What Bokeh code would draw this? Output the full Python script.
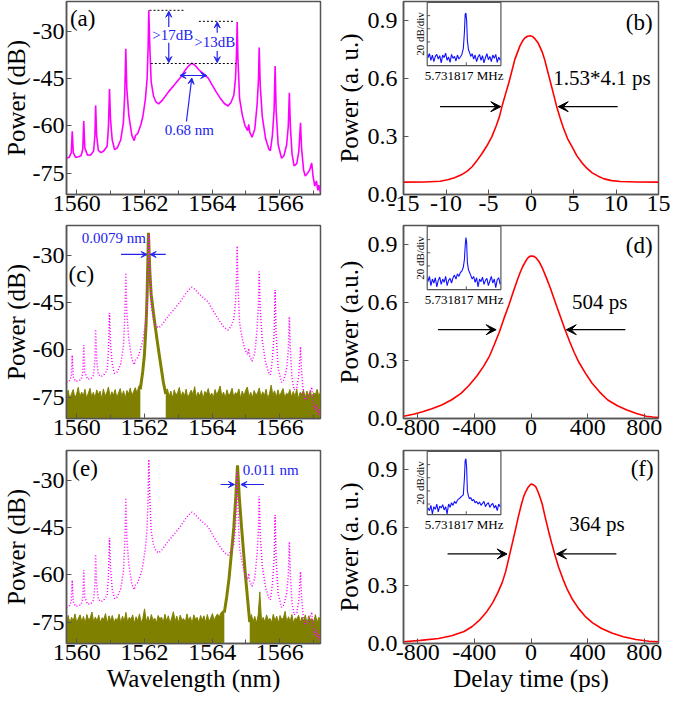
import math
from bokeh.plotting import figure
from bokeh.models import Range1d, FixedTicker, Label, Arrow, VeeHead, PrintfTickFormatter, Title
from bokeh.layouts import row, column
from bokeh.embed import file_html
from bokeh.resources import INLINE

# ---------------- data ----------------
spec_x = [1559.70, 1559.78, 1559.84, 1559.87, 1559.90, 1559.97, 1560.05, 1560.13, 1560.18, 1560.21,
          1560.24, 1560.32, 1560.42, 1560.50, 1560.54, 1560.56, 1560.59, 1560.64, 1560.72, 1560.80,
          1560.90, 1560.94, 1560.97, 1561.00, 1561.05, 1561.12, 1561.20, 1561.30, 1561.38, 1561.42,
          1561.45, 1561.48, 1561.54, 1561.63, 1561.70, 1561.74, 1561.80, 1561.90, 1561.96, 1562.03,
          1562.08, 1562.11, 1562.13, 1562.16, 1562.20, 1562.27, 1562.34, 1562.42, 1562.52, 1562.71,
          1562.90, 1563.08, 1563.20, 1563.30, 1563.40, 1563.50, 1563.61, 1563.75, 1563.89, 1564.00,
          1564.12, 1564.24, 1564.36, 1564.47, 1564.56, 1564.64, 1564.69, 1564.72, 1564.74, 1564.76,
          1564.81, 1564.89, 1564.97, 1565.05, 1565.08, 1565.11, 1565.18, 1565.26, 1565.33, 1565.37,
          1565.39, 1565.42, 1565.48, 1565.58, 1565.68, 1565.72, 1565.78, 1565.83, 1565.86, 1565.89,
          1565.95, 1566.05, 1566.12, 1566.20, 1566.25, 1566.28, 1566.31, 1566.36, 1566.42, 1566.50,
          1566.56, 1566.61, 1566.64, 1566.70, 1566.75, 1566.82, 1566.88, 1566.94, 1566.98, 1567.03,
          1567.08, 1567.12, 1567.15, 1567.20]
spec_y = [-70.3, -70.0, -68.5, -61.7, -68.5, -70.0, -69.8, -69.5, -67.5, -58.5,
          -67.0, -69.3, -69.2, -68.0, -63.0, -53.5, -63.0, -67.8, -68.5, -68.0,
          -66.5, -60.0, -48.3, -58.0, -64.5, -67.5, -67.0, -64.5, -59.0, -50.0,
          -35.5, -48.0, -56.7, -63.0, -64.7, -63.0, -62.5, -59.5, -56.7, -51.5,
          -45.0, -35.0, -23.3, -35.0, -46.0, -50.5, -52.4, -53.0, -52.0, -49.2,
          -46.8, -44.4, -42.4, -41.0, -40.1, -40.8, -42.2, -43.5, -44.9, -47.0,
          -49.2, -51.2, -52.9, -53.7, -52.5, -50.3, -45.0, -37.0, -27.0, -38.0,
          -51.3, -56.5, -59.9, -61.5, -59.5, -62.0, -63.6, -61.0, -53.0, -45.0,
          -35.1, -47.0, -57.0, -64.1, -67.5, -67.9, -63.0, -55.0, -41.0, -55.0,
          -66.0, -70.3, -69.5, -66.0, -60.0, -49.5, -60.0, -69.0, -72.7, -72.0,
          -68.0, -59.0, -67.0, -74.0, -75.9, -75.0, -74.0, -71.8, -76.0, -79.1,
          -77.5, -80.5, -78.8, -81.3]

# noise floors: values sampled evenly between the given first and last wavelength
c_floor_left_span = (1559.70, 1561.88)
c_floor_left_y = [-74.5, -72.8, -75.6, -73.9, -72.6, -75.2, -74.1, -71.9, -75.0, -73.4,
                  -74.6, -72.5, -75.4, -73.8, -72.2, -74.9, -73.5, -75.3, -72.7, -74.2,
                  -73.1, -75.5, -72.4, -74.7, -73.6, -71.8, -75.1, -73.3, -74.4, -72.6,
                  -75.2, -73.7, -72.3, -74.8, -73.0, -75.4, -72.9, -74.0, -72.1, -74.6,
                  -73.2, -72.0, -73.8, -71.6, -71.0]
c_floor_right_span = (1562.63, 1567.20)
c_floor_right_y = [-73.0,
                   -72.4, -74.8, -73.1, -75.3, -72.7, -74.4, -73.6, -71.9, -75.0, -73.3,
                   -74.7, -72.5, -75.4, -73.9, -72.8, -74.2, -71.7, -75.1, -73.5, -74.6,
                   -72.9, -75.5, -73.2, -74.0, -72.3, -74.9, -73.7, -75.2, -72.6, -74.3,
                   -73.0, -71.5, -74.8, -73.4, -75.3, -72.7, -74.5, -73.8, -72.2, -75.0,
                   -73.6, -74.1, -72.4, -75.4, -73.1, -74.7, -72.8, -71.8, -74.9, -73.5,
                   -75.2, -72.9, -74.3, -73.7, -72.1, -75.0, -73.3, -74.6, -72.5, -75.5,
                   -73.9, -71.2, -74.4, -73.0, -75.1, -72.7, -74.8, -73.4, -72.3, -75.3,
                   -73.8, -74.2, -72.6, -75.0, -73.2, -74.9, -72.4, -75.6, -73.5, -74.0,
                   -72.8, -75.2, -73.1, -74.6, -72.9, -75.4, -73.6, -74.3, -72.5, -74.8,
                   -73.3]
c_peak_x = [1561.88, 1561.95, 1562.00, 1562.05, 1562.08, 1562.12, 1562.16, 1562.20, 1562.30, 1562.37,
            1562.44, 1562.56, 1562.63]
c_peak_y = [-72.5, -67.0, -61.7, -52.0, -42.4, -22.8, -35.0, -42.4, -51.0, -56.5,
            -61.7, -70.3, -74.0]

e_floor_left_span = (1559.70, 1564.36)
e_floor_left_y = [-74.8, -72.9, -75.3, -73.5, -74.6, -72.4, -75.1, -73.8, -72.7, -74.9,
                  -73.2, -75.4, -72.6, -74.3, -73.7, -71.8, -75.0, -73.4, -74.7, -72.8,
                  -75.2, -73.6, -74.1, -72.3, -75.5, -73.0, -74.5, -72.9, -75.1, -73.9,
                  -74.4, -72.5, -75.3, -73.1, -74.8, -71.9, -75.0, -73.5, -74.2, -72.7,
                  -75.4, -73.3, -74.6, -72.4, -75.2, -73.8, -70.8, -74.9, -73.2, -75.0,
                  -72.6, -74.5, -73.7, -75.3, -72.9, -74.0, -73.4, -75.1, -72.5, -74.7,
                  -73.0, -75.4, -73.6, -71.7, -74.8, -73.1, -75.2, -72.8, -74.3, -73.9,
                  -75.0, -72.4, -74.6, -73.3, -75.5, -72.7, -74.1, -73.5, -75.2, -72.9,
                  -74.4, -73.0, -75.1, -72.6, -74.8, -73.7, -72.3, -74.5, -73.2, -72.4,
                  -73.5, -72.0, -71.5, -71.8]
e_floor_right_span = (1565.11, 1567.20)
e_floor_right_y = [-74.0, -72.6, -74.9, -73.2, -75.3, -72.8, -65.4, -74.6, -73.5, -75.0,
                   -72.7, -74.4, -73.8, -75.2, -72.5, -74.7, -73.1, -75.4, -72.9, -74.2,
                   -73.6, -71.6, -75.0, -73.3, -74.8, -72.6, -75.3, -73.7, -74.1, -72.8,
                   -75.1, -73.4, -74.6, -72.7, -75.5, -73.0, -74.3, -73.9, -74.9, -72.6,
                   -75.2, -73.5, -74.0]
e_peak_x = [1564.36, 1564.43, 1564.50, 1564.57, 1564.64, 1564.70, 1564.75, 1564.80, 1564.87, 1564.93,
            1564.99, 1565.05, 1565.11]
e_peak_y = [-72.0, -67.0, -61.1, -53.0, -45.0, -35.0, -25.2, -35.0, -45.0, -53.0,
            -61.0, -68.0, -75.0]

# autocorrelation traces
b_x = [-15.0, -12.5, -10.7, -9.8, -9.0, -8.2, -7.5, -6.9, -6.4, -5.8, -5.2, -4.6, -4.1, -3.7, -3.4,
       -3.0, -2.6, -2.25, -1.9, -1.6, -1.3, -1.0, -0.7, -0.4, -0.1, 0.2, 0.5, 0.8, 1.1, 1.35, 1.6,
       1.95, 2.3, 2.65, 3.0, 3.4, 3.8, 4.3, 4.9, 5.4, 6.0, 6.6, 7.2, 7.9, 8.6, 9.5, 10.5, 12.5, 15.0]
b_y = [0.064, 0.065, 0.069, 0.076, 0.087, 0.102, 0.121, 0.145, 0.173, 0.210, 0.251, 0.300, 0.355, 0.405,
       0.459, 0.520, 0.580, 0.640, 0.700, 0.735, 0.770, 0.795, 0.812, 0.820, 0.823, 0.818, 0.805, 0.788,
       0.760, 0.735, 0.700, 0.640, 0.580, 0.520, 0.459, 0.400, 0.346, 0.290, 0.242, 0.200, 0.164, 0.135,
       0.112, 0.095, 0.081, 0.072, 0.067, 0.065, 0.064]
d_x = [-900, -830, -765, -700, -630, -560, -494, -440, -382, -335, -292, -258, -224, -190, -156, -128,
       -100, -80, -60, -40, -25, -10, 5, 20, 35, 55, 80, 108, 137, 170, 204, 238, 272, 305, 339, 385,
       430, 485, 542, 610, 677, 745, 813, 860, 900]
d_y = [0.012, 0.022, 0.035, 0.050, 0.070, 0.097, 0.130, 0.170, 0.220, 0.270, 0.325, 0.385, 0.447, 0.520,
       0.588, 0.650, 0.710, 0.750, 0.785, 0.812, 0.830, 0.840, 0.842, 0.840, 0.833, 0.815, 0.780, 0.730,
       0.675, 0.605, 0.535, 0.465, 0.400, 0.342, 0.290, 0.234, 0.184, 0.137, 0.096, 0.066, 0.044, 0.026,
       0.012, 0.008, 0.005]
f_x = [-900, -780, -652, -560, -472, -415, -360, -312, -270, -235, -202, -178, -157, -135, -112, -90,
       -67, -50, -35, -20, -5, 4, 15, 25, 34, 50, 65, 79, 100, 124, 146, 169, 195, 225, 256, 292, 335,
       382, 435, 495, 570, 652, 740, 832, 900]
f_y = [0.009, 0.016, 0.026, 0.040, 0.062, 0.088, 0.124, 0.165, 0.212, 0.262, 0.318, 0.375, 0.441, 0.510,
       0.582, 0.655, 0.723, 0.765, 0.790, 0.810, 0.823, 0.826, 0.823, 0.818, 0.812, 0.785, 0.755, 0.723,
       0.655, 0.582, 0.520, 0.459, 0.395, 0.335, 0.280, 0.229, 0.182, 0.141, 0.107, 0.079, 0.054, 0.035,
       0.021, 0.012, 0.009]

# RF spectra insets (offset from 5.731817 MHz, dB)
rf_x = [-5.2, -5.0, -4.8, -4.6, -4.4, -4.2, -4.0, -3.8, -3.6, -3.4, -3.2, -3.0, -2.8, -2.6, -2.4, -2.2,
        -2.0, -1.8, -1.6, -1.4, -1.2, -1.0, -0.8, -0.6, -0.4, -0.25, -0.15, -0.05, 0.05, 0.15, 0.3, 0.45,
        0.6, 0.8, 1.0, 1.2, 1.4, 1.6, 1.8, 2.0, 2.2, 2.4, 2.6, 2.8, 3.0, 3.2, 3.4, 3.6, 3.8, 4.0, 4.2,
        4.4, 4.6]
rf_b = [-84, -78, -88, -80, -90, -82, -79, -86, -81, -92, -80, -84, -77, -88, -83, -91, -79, -85, -82,
        -89, -80, -86, -83, -79, -70, -45, -18, -16, -28, -58, -72, -76, -82, -78, -86, -80, -90, -83,
        -79, -88, -81, -92, -84, -78, -87, -82, -90, -80, -85, -79, -91, -83, -88]
rf_d = [-84, -76, -90, -80, -86, -78, -92, -82, -77, -88, -80, -85, -76, -90, -82, -79, -86, -78, -74,
        -80, -72, -76, -70, -68, -62, -50, -30, -17, -24, -55, -66, -70, -74, -80, -76, -85, -78, -92,
        -80, -84, -77, -88, -82, -79, -90, -83, -76, -86, -80, -93, -81, -78, -88]
rf_f = [-86, -90, -82, -95, -84, -88, -80, -92, -83, -86, -81, -89, -84, -95, -80, -85, -78, -82, -76,
        -79, -74, -72, -70, -68, -66, -40, -14, -11, -25, -60, -68, -72, -70, -75, -73, -78, -76, -80,
        -77, -82, -79, -76, -84, -80, -78, -85, -81, -79, -86, -82, -90, -80, -84]
rf_ticks = [-80, -60, -40, -20]

wl_ticks = [1560, 1562, 1564, 1566]
wl_minor = [1561, 1563, 1565, 1567]
db_ticks = [-75, -60, -45, -30]
pw_ticks = [0.0, 0.3, 0.6, 0.9]
b_ticks = [-15, -10, -5, 0, 5, 10, 15]
ps_ticks = [-800, -400, 0, 400, 800]

# ---------------- styling helpers ----------------
FONT = "Liberation Serif"
MAGENTA = "#ff00ff"
OLIVE = "#808000"
RED = "#ff0000"
BLUE = "#2323ee"
FRAME = "#555555"

WL_RANGE = (1559.70, 1567.20)
DB_RANGE = (-81.8, -20.5)


def grid(span, n):
    a, b = span
    return [a + (b - a) * i / (n - 1) for i in range(n)]


def make_fig(w, h, xr, yr, bl, br, bt, bb, xticks, xminor, yticks, xlabel, ylabel, xfmt, yfmt,
             ystand=2, tstand=0):
    p = figure(width=w, height=h, x_range=Range1d(*xr), y_range=Range1d(*yr),
               output_backend="svg", toolbar_location=None,
               min_border_left=bl, min_border_right=br, min_border_top=bt, min_border_bottom=bb)
    p.grid.visible = False
    p.outline_line_color = FRAME
    p.outline_line_width = 1.5
    p.xaxis.ticker = FixedTicker(ticks=xticks, minor_ticks=xminor)
    p.yaxis.ticker = FixedTicker(ticks=yticks, minor_ticks=[])
    p.xaxis.formatter = PrintfTickFormatter(format=xfmt)
    p.yaxis.formatter = PrintfTickFormatter(format=yfmt)
    for ax in (p.xaxis[0], p.yaxis[0]):
        ax.axis_line_color = FRAME
        ax.axis_line_width = 1.5
        ax.major_tick_line_color = FRAME
        ax.minor_tick_line_color = FRAME
        ax.major_tick_in = 5
        ax.major_tick_out = 0
        ax.minor_tick_in = 4
        ax.minor_tick_out = 0
        ax.major_label_text_font = FONT
        ax.major_label_text_font_size = "24px"
        ax.major_label_text_color = "black"
    p.xaxis[0].major_label_standoff = 1
    p.yaxis[0].major_label_standoff = ystand
    if xlabel:
        p.add_layout(Title(text=xlabel, align="center", text_font=FONT, text_font_size="25px",
                           text_font_style="normal", text_color="black", standoff=0), "below")
    p.add_layout(Title(text=ylabel, align="center", text_font=FONT, text_font_size="25px",
                       text_font_style="normal", text_color="black", standoff=tstand), "left")
    return p


def label(p, x, y, text, size, color="black", align="left", baseline="middle", **kw):
    p.add_layout(Label(x=x, y=y, text=text, text_font=FONT, text_font_size=size, text_color=color,
                       text_align=align, text_baseline=baseline, **kw))


def arrow(p, x0, y0, x1, y1, color="black", size=10, both=False, width=1.2):
    end = VeeHead(size=size, fill_color=color, line_color=color, line_width=1)
    start = VeeHead(size=size, fill_color=color, line_color=color, line_width=1) if both else None
    p.add_layout(Arrow(start=start, end=end, x_start=x0, y_start=y0, x_end=x1, y_end=y1,
                       line_color=color, line_width=width))


def add_inset(p, ys):
    bx0, bx1, by0, by1 = -5.3, 4.7, -96.0, 0.0
    fx0, fx1, fy0, fy1 = 0.093, 0.382, 0.668, 0.995
    sx = (bx1 - bx0) / (fx1 - fx0)
    sy = (by1 - by0) / (fy1 - fy0)
    p.extra_x_ranges = {"ix": Range1d(bx0 - fx0 * sx, bx0 + (1 - fx0) * sx)}
    p.extra_y_ranges = {"iy": Range1d(by0 - fy0 * sy, by0 + (1 - fy0) * sy)}
    kw = dict(x_range_name="ix", y_range_name="iy")
    p.quad(left=[bx0], right=[bx1], bottom=[by0], top=[by1], fill_color="white",
           line_color=FRAME, line_width=1.2, **kw)
    p.segment(x0=[bx0] * len(rf_ticks), y0=rf_ticks, x1=[bx0 + 0.4] * len(rf_ticks), y1=rf_ticks,
              line_color=FRAME, line_width=1, **kw)
    p.segment(x0=[0.0], y0=[by0], x1=[0.0], y1=[by0 + 5], line_color=FRAME, line_width=1, **kw)
    p.line(rf_x, ys, line_color="#1010ff", line_width=1.1, **kw)
    p.add_layout(Label(x=bx0, y=(by0 + by1) / 2, text="20 dB/div", angle=math.pi / 2,
                       text_align="center", text_baseline="bottom", x_offset=-1,
                       text_font=FONT, text_font_size="11px", text_color="black", **kw))
    p.add_layout(Label(x=(bx0 + bx1) / 2, y=by0, text="5.731817 MHz", y_offset=-2,
                       text_align="center", text_baseline="top",
                       text_font=FONT, text_font_size="13px", text_color="black", **kw))


def floor(p, span, ys):
    xs = grid(span, len(ys))
    p.varea(x=xs, y1=[DB_RANGE[0]] * len(xs), y2=ys, fill_color=OLIVE)
    p.line(xs, ys, line_color=OLIVE, line_width=1)


LW, RW = 332, 338
H1, H2, H3 = 224, 224, 245
LBL, RBL = 50, 63

# ---------------- (a) ----------------
pa = make_fig(LW, H1, WL_RANGE, DB_RANGE, LBL, 12, 1, 30, wl_ticks, wl_minor, db_ticks, None,
              "Power (dB)", "%d", "%d")
pa.line(spec_x, spec_y, line_color=MAGENTA, line_width=1.6)
pa.segment(x0=[1562.15, 1563.61, 1562.19], y0=[-23.3, -26.8, -40.2],
           x1=[1563.20, 1564.67, 1564.71], y1=[-23.3, -26.8, -40.2],
           line_color="black", line_width=1, line_dash="2 2")
arrow(pa, 1562.72, -28.6, 1562.72, -23.6, BLUE, 6)
arrow(pa, 1562.72, -33.6, 1562.72, -39.9, BLUE, 6)
label(pa, 1562.84, -31.0, ">17dB", "15px", BLUE, "center")
arrow(pa, 1564.15, -30.4, 1564.15, -27.0, BLUE, 6)
arrow(pa, 1564.15, -36.2, 1564.15, -39.9, BLUE, 6)
label(pa, 1564.08, -33.5, ">13dB", "15px", BLUE, "center")
arrow(pa, 1563.05, -44.0, 1563.84, -44.0, BLUE, 6, both=True)
arrow(pa, 1563.24, -58.6, 1563.40, -44.8, BLUE, 6)
label(pa, 1563.33, -61.3, "0.68 nm", "15px", BLUE, "center")
label(pa, 1559.80, -22.0, "(a)", "23px", baseline="top")

# ---------------- (c) ----------------
pc = make_fig(LW, H2, WL_RANGE, DB_RANGE, LBL, 12, 1, 30, wl_ticks, wl_minor, db_ticks, None,
              "Power (dB)", "%d", "%d")
floor(pc, c_floor_left_span, c_floor_left_y)
floor(pc, c_floor_right_span, c_floor_right_y)
pc.line(c_peak_x, c_peak_y, line_color=OLIVE, line_width=3)
pc.line(spec_x, spec_y, line_color=MAGENTA, line_width=1.5, line_dash="1 2")
arrow(pc, 1561.31, -29.7, 1562.08, -29.7, BLUE, 6)
arrow(pc, 1562.63, -29.7, 1562.17, -29.7, BLUE, 6)
label(pc, 1561.10, -24.6, "0.0079 nm", "15px", BLUE, "center")
label(pc, 1559.76, -36.2, "(c)", "23px")

# ---------------- (e) ----------------
pe = make_fig(LW, H3, WL_RANGE, DB_RANGE, LBL, 12, 2, 50, wl_ticks, wl_minor, db_ticks,
              "Wavelength (nm)", "Power (dB)", "%d", "%d")
floor(pe, e_floor_left_span, e_floor_left_y)
floor(pe, e_floor_right_span, e_floor_right_y)
pe.line(e_peak_x, e_peak_y, line_color=OLIVE, line_width=3)
pe.line(spec_x, spec_y, line_color=MAGENTA, line_width=1.5, line_dash="1 2")
arrow(pe, 1564.25, -31.3, 1564.66, -31.3, BLUE, 6)
arrow(pe, 1565.53, -31.3, 1564.85, -31.3, BLUE, 6)
label(pe, 1565.73, -26.6, "0.011 nm", "15px", BLUE, "center")
label(pe, 1559.87, -26.2, "(e)", "23px")

# ---------------- (b) ----------------
pb = make_fig(RW, H1, (-15, 15), (0, 1.0), RBL, 12, 1, 30, b_ticks, [], pw_ticks, None,
              "Power (a. u.)", "%d", "%.1f", ystand=6, tstand=3)
add_inset(pb, rf_b)
pb.line(b_x, b_y, line_color=RED, line_width=1.6)
arrow(pb, -10.7, 0.455, -3.55, 0.455)
arrow(pb, 10.2, 0.455, 3.2, 0.455)
label(pb, 8.35, 0.606, "1.53*4.1 ps", "21px", align="center")
label(pb, 14.3, 0.89, "(b)", "23px", align="right")

# ---------------- (d) ----------------
pd_ = make_fig(RW, H2, (-900, 900), (0, 1.0), RBL, 12, 1, 30, ps_ticks, [], pw_ticks, None,
               "Power (a.u.)", "%d", "%.1f", ystand=6, tstand=3)
add_inset(pd_, rf_d)
pd_.line(d_x, d_y, line_color=RED, line_width=1.6)
arrow(pd_, -657, 0.46, -246, 0.46)
arrow(pd_, 666, 0.46, 249, 0.46)
label(pd_, 485, 0.605, "504 ps", "21px", align="center")
label(pd_, 858, 0.895, "(d)", "23px", align="right")

# ---------------- (f) ----------------
pf = make_fig(RW, H3, (-900, 900), (0, 1.0), RBL, 12, 2, 50, ps_ticks, [], pw_ticks,
              "Delay time (ps)", "Power (a. u.)", "%d", "%.1f", ystand=6, tstand=3)
add_inset(pf, rf_f)
pf.line(f_x, f_y, line_color=RED, line_width=1.6)
arrow(pf, -589, 0.464, -169, 0.464)
arrow(pf, 603, 0.464, 180, 0.464)
label(pf, 465, 0.618, "364 ps", "21px", align="center")
label(pf, 866, 0.909, "(f)", "23px", align="right")

layout = row(column(pa, pc, pe), column(pb, pd_, pf))
open("out.html", "w").write(file_html(layout, INLINE))
